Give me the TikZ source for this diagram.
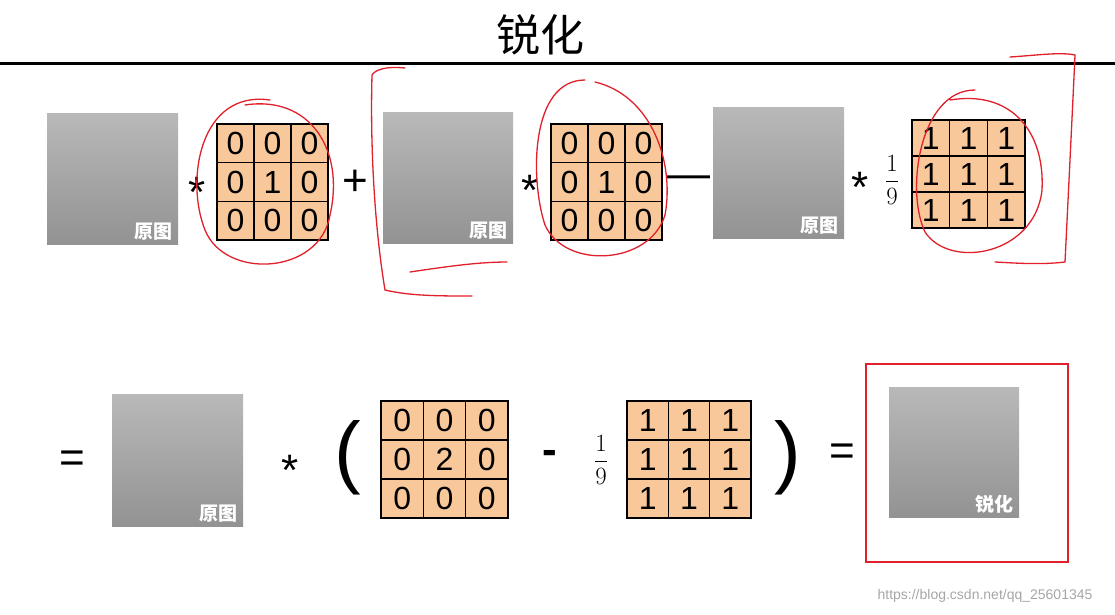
\documentclass[tikz,border=0pt]{standalone}
\usepackage{fontspec}
\setmainfont{Liberation Sans}
\newfontfamily\cjk{Noto Sans CJK SC}
\usetikzlibrary{positioning}
\definecolor{cellfill}{HTML}{F8C89B}
\definecolor{inkred}{HTML}{E0202A}

% one 3x3 kernel: name, left, top, cell width, cell height, three rows
\newcommand{\kmat}[8]{%
  \foreach \rw/\vals in {0/{#6},1/{#7},2/{#8}}{
    \foreach \v [count=\c from 0] in \vals{
      \node[cell, minimum width=#4pt, minimum height=#5pt]
        (#1-\rw-\c) at (#2+#4*\c+#4/2, #3+#5*\rw+#5/2) {\v};
    }
  }
  \draw[very thick, line width=2.5pt] (#2,#3) rectangle ++(3*#4,3*#5);
}
% a stand-in for the photograph
\newcommand{\photo}[5]{%
  \shade[top color=gray!55, bottom color=gray!85] (#2,#3) rectangle (#4,#5);
  \node[photolbl, anchor=south east] (#1) at (#4-4,#5-2) {\cjk 原图};
}

\begin{document}
\begin{tikzpicture}[x=1pt, y=-1pt,
  cell/.style={draw, line width=1.2pt, fill=cellfill, inner sep=0pt,
    font=\fontsize{32}{32}\selectfont},
  photolbl/.style={text=white, font=\cjk\bfseries\fontsize{19}{19}\selectfont, inner sep=1pt},
  op/.style={font=\fontsize{44}{44}\selectfont, inner sep=0pt},
  frac/.style={font=\fontsize{24}{24}\selectfont, inner sep=0pt},
  scribble/.style={inkred, line width=1.3pt, line cap=round}]
\useasboundingbox (0,0) rectangle (1115,614);

% Title and rule
\node[font=\cjk\fontsize{44}{44}\selectfont] (title) at (540,35) {锐化};
\draw[line width=3pt] (0,63) -- (1115,63);

%%%%%%%%%%%%%%%%%%%%%% FIRST ROW %%%%%%%%%%%%%%%%%%%%%%
\photo{img1}{47}{113}{178}{244}
\node[op] (st1) at (197,192) {*};
\kmat{ka}{217}{124}{37}{38.7}{0,0,0}{0,1,0}{0,0,0}
\node[op] (plus) at (355,183) {+};
\photo{img2}{383}{112}{513}{243}
\node[op] (st2) at (530,190) {*};
\kmat{kb}{551}{124}{37}{38.7}{0,0,0}{0,1,0}{0,0,0}
\node[op] (minus) at (688,182) {---};
\photo{img3}{713}{107}{844}{238}
\node[op] (st3) at (860,187) {*};
\node[frac] (fr1) at (892,180) {$\displaystyle\frac{1}{9}$};
\kmat{kc}{912}{120}{37.7}{36}{1,1,1}{1,1,1}{1,1,1}

% Hand annotations
\draw[scribble] (270,100) .. controls (200,90) and (185,180) .. (205,230)
  .. controls (225,280) and (320,275) .. (330,215)
  .. controls (345,150) and (310,95) .. (245,105);
\draw[scribble] (405,68) .. controls (385,66) and (375,70) .. (372,75)
  .. controls (370,150) and (375,230) .. (385,290)
  .. controls (410,296) and (440,296) .. (472,296);
\draw[scribble] (410,272) .. controls (450,266) and (480,262) .. (507,262);
\draw[scribble] (585,80) .. controls (530,80) and (530,180) .. (545,225)
  .. controls (565,270) and (650,265) .. (665,215)
  .. controls (675,160) and (650,95) .. (595,82);
\draw[scribble] (975,90) .. controls (920,90) and (905,190) .. (925,232)
  .. controls (950,270) and (1035,255) .. (1042,190)
  .. controls (1045,130) and (1010,90) .. (950,100);
\draw[scribble] (1010,57) .. controls (1040,55) and (1060,52) .. (1075,55)
  .. controls (1072,120) and (1068,200) .. (1065,262)
  .. controls (1040,265) and (1015,263) .. (995,262);

%%%%%%%%%%%%%%%%%%%%%% SECOND ROW %%%%%%%%%%%%%%%%%%%%%%
\node[op] (eq1) at (72,462) {=};
\photo{img4}{112}{394}{243}{526}
\node[op] (st4) at (290,470) {*};
\node[font=\fontsize{80}{80}\selectfont, inner sep=0pt] (lpar) at (348,458) {(};
\kmat{kd}{381}{401}{42.3}{39}{0,0,0}{0,2,0}{0,0,0}
\node[op, font=\bfseries\fontsize{44}{44}\selectfont] (minus2) at (550,457) {-};
\node[frac] (fr2) at (601,460) {$\displaystyle\frac{1}{9}$};
\kmat{ke}{627}{401}{41.3}{39}{1,1,1}{1,1,1}{1,1,1}
\node[font=\fontsize{80}{80}\selectfont, inner sep=0pt] (rpar) at (788,458) {)};
\node[op] (eq2) at (842,455) {=};
\draw[inkred, line width=1.5pt] (866,364) rectangle (1068,562);
\shade[top color=gray!55, bottom color=gray!85] (889,387) rectangle (1019,517);
\node[photolbl, anchor=south east] (img5) at (1015,515) {\cjk 锐化};

% Watermark
\node[text=gray!70, font=\fontsize{14}{14}\selectfont] (mark) at (985,596) {https://blog.csdn.net/qq\_25601345};
\end{tikzpicture}
\end{document}
